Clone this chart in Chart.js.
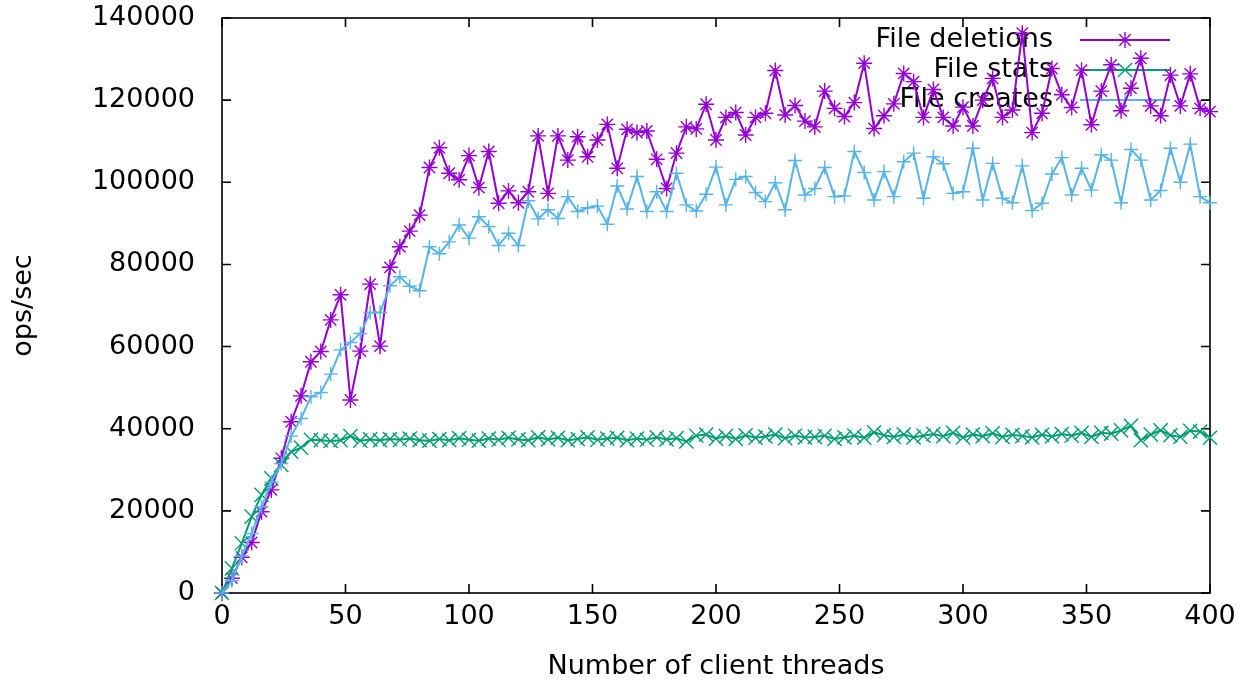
<!DOCTYPE html>
<html>
<head>
<meta charset="utf-8">
<title>ops/sec vs client threads</title>
<script src="https://cdn.jsdelivr.net/npm/chart.js@4/dist/chart.umd.min.js"></script>
<style>
  html, body { margin: 0; padding: 0; background: #fff; }
  canvas { display: block; }
</style>
</head>
<body>
<canvas id="opsChart" width="1245" height="683"></canvas>
<script>
// client thread counts (x)
const threads = [
    0, 4, 8, 12, 16, 20, 24, 28, 32, 36, 40, 44, 48, 52, 56, 60, 64, 68, 72, 76,
    80, 84, 88, 92, 96, 100, 104, 108, 112, 116, 120, 124, 128, 132, 136, 140, 144, 148, 152, 156,
    160, 164, 168, 172, 176, 180, 184, 188, 192, 196, 200, 204, 208, 212, 216, 220, 224, 228, 232, 236,
    240, 244, 248, 252, 256, 260, 264, 268, 272, 276, 280, 284, 288, 292, 296, 300, 304, 308, 312, 316,
    320, 324, 328, 332, 336, 340, 344, 348, 352, 356, 360, 364, 368, 372, 376, 380, 384, 388, 392, 396,
    400
];

const deletions = [
    0, 3600, 8700, 12300, 19800, 25100, 32800, 41700, 48000, 56300,
    58800, 66500, 72600, 47000, 58900, 75200, 60100, 79300, 84300, 88100,
    92000, 103600, 108400, 102200, 100600, 106500, 98700, 107500, 94900, 97900,
    95000, 97700, 111300, 97300, 111300, 105400, 111100, 106200, 110300, 114100,
    103400, 112900, 112100, 112500, 105600, 98500, 107100, 113500, 113000, 119000,
    110300, 115800, 117000, 111500, 115800, 116800, 127200, 116400, 118700, 114900,
    113500, 122200, 118000, 116000, 119400, 129000, 113100, 116200, 119100, 126500,
    124500, 115800, 122600, 115800, 113700, 118300, 113700, 120000, 125300, 115800,
    117600, 136300, 112100, 116800, 127700, 121300, 118200, 127300, 114000, 122200,
    128600, 117400, 122900, 130200, 118600, 116200, 126100, 118600, 126400, 118000,
    117200
];

const stats = [
    0, 6000, 12100, 18600, 23900, 27900, 31200, 34400, 35400, 37300,
    37200, 37000, 37200, 38200, 37100, 37400, 37200, 37500, 37300, 37600,
    37200, 37100, 37500, 37200, 37700, 37300, 37100, 37600, 37300, 37800,
    37400, 37200, 37900, 37400, 37800, 37200, 37500, 37900, 37300, 37600,
    37800, 37200, 37600, 37300, 37900, 37400, 37700, 36900, 38300, 38600,
    37600, 38200, 37500, 38400, 37800, 38100, 38600, 37700, 38300, 37900,
    38000, 38300, 37500, 37900, 38300, 37800, 39100, 38400, 38000, 38600,
    37900, 38300, 38700, 38200, 39000, 37900, 38600, 38200, 38900, 38000,
    38500, 38200, 37900, 38500, 38100, 38700, 38300, 39000, 38000, 39000,
    38800, 39600, 40700, 37200, 38600, 39600, 38400, 38000, 39500, 39300,
    37800
];

const creates = [
    0, 3000, 9000, 14500, 21000, 27000, 31500, 38200, 42500, 47800,
    48800, 53300, 59200, 61000, 63200, 68300, 68300, 74800, 77000, 74700,
    73600, 84300, 82600, 85500, 89600, 86400, 91600, 89200, 84600, 87600,
    84600, 95500, 91100, 93300, 91200, 96500, 92900, 93800, 94200, 89800,
    99100, 93500, 101400, 92900, 97700, 92900, 102200, 94500, 93000, 97100,
    103700, 94500, 100700, 101400, 97500, 95300, 99900, 93300, 105300, 96900,
    98500, 103600, 96500, 96700, 107500, 102400, 95700, 102600, 96500, 105000,
    107100, 96100, 106200, 104500, 97300, 97700, 108300, 95700, 104600, 96100,
    95000, 104000, 93100, 94900, 102000, 106000, 96900, 103400, 98100, 106700,
    105400, 95000, 108000, 105400, 95700, 98000, 108300, 100000, 109300, 96500,
    95000
];

const xTicks = [0, 50, 100, 150, 200, 250, 300, 350, 400];
const yTicks = [0, 20000, 40000, 60000, 80000, 100000, 120000, 140000];

const seriesNames = ['File deletions', 'File stats', 'File creates'];
const seriesColors = ['#9400d3', '#009e73', '#56b4e9'];
const seriesMarkers = ['star', 'crossRot', 'cross'];
const markerSizes = [8, 10, 7];

function toPoints(values) {
    return threads.map((t, i) => ({ x: t, y: values[i] }));
}

// simple gnuplot-style point glyphs
function drawMarker(ctx, style, x, y, r) {
    ctx.beginPath();
    if (style === 'cross' || style === 'star') {
        ctx.moveTo(x - r, y); ctx.lineTo(x + r, y);
        ctx.moveTo(x, y - r); ctx.lineTo(x, y + r);
    }
    if (style === 'crossRot' || style === 'star') {
        const d = r * Math.SQRT1_2;
        ctx.moveTo(x - d, y - d); ctx.lineTo(x + d, y + d);
        ctx.moveTo(x - d, y + d); ctx.lineTo(x + d, y - d);
    }
    ctx.stroke();
}

// border box with inward tics on all four sides
const framePlugin = {
    id: 'frame',
    beforeDatasetsDraw(chart) {
        const { ctx, chartArea: a, scales } = chart;
        const tic = 9;
        ctx.save();
        ctx.strokeStyle = '#000';
        ctx.lineWidth = 1.6;
        ctx.strokeRect(a.left, a.top, a.right - a.left, a.bottom - a.top);
        ctx.beginPath();
        xTicks.forEach(v => {
            const px = scales.x.getPixelForValue(v);
            ctx.moveTo(px, a.bottom); ctx.lineTo(px, a.bottom - tic);
            ctx.moveTo(px, a.top); ctx.lineTo(px, a.top + tic);
        });
        yTicks.forEach(v => {
            const py = scales.y.getPixelForValue(v);
            ctx.moveTo(a.left, py); ctx.lineTo(a.left + tic, py);
            ctx.moveTo(a.right, py); ctx.lineTo(a.right - tic, py);
        });
        ctx.stroke();
        ctx.restore();
    }
};

// key in the top right corner: label, then sample line with its marker
const keyPlugin = {
    id: 'key',
    beforeDatasetsDraw(chart) {
        const { ctx } = chart;
        const textRight = 1053, lineStart = 1080, lineEnd = 1170;
        ctx.save();
        ctx.font = '27px "DejaVu Sans", sans-serif';
        ctx.textAlign = 'right';
        ctx.textBaseline = 'middle';
        seriesNames.forEach((name, i) => {
            const y = 40 + i * 30;
            ctx.fillStyle = '#000';
            ctx.fillText(name, textRight, y);
            ctx.strokeStyle = seriesColors[i];
            ctx.lineWidth = 2;
            ctx.beginPath();
            ctx.moveTo(lineStart, y); ctx.lineTo(lineEnd, y);
            ctx.stroke();
            ctx.lineWidth = 1.4;
            drawMarker(ctx, seriesMarkers[i], (lineStart + lineEnd) / 2, y, markerSizes[i]);
        });
        ctx.restore();
    }
};

function makeDataset(i, values, order) {
    return {
        label: seriesNames[i],
        data: toPoints(values),
        borderColor: seriesColors[i],
        backgroundColor: seriesColors[i],
        borderWidth: 2,
        pointStyle: seriesMarkers[i],
        pointRadius: markerSizes[i],
        pointBorderWidth: 1.4,
        pointBorderColor: seriesColors[i],
        tension: 0,
        fill: false,
        clip: false,
        order: order
    };
}

Chart.defaults.font.family = '"DejaVu Sans", sans-serif';
Chart.defaults.font.size = 27;
Chart.defaults.color = '#000';

const ctx = document.getElementById('opsChart').getContext('2d');
const opsChart = new Chart(ctx, {
    type: 'line',
    data: {
        datasets: [
            makeDataset(0, deletions, 2),
            makeDataset(1, stats, 1),
            makeDataset(2, creates, 0)
        ]
    },
    options: {
        responsive: false,
        animation: false,
        layout: { padding: { top: 18, right: 35, left: 0, bottom: 0 } },
        plugins: {
            legend: { display: false },
            tooltip: { enabled: false }
        },
        scales: {
            x: {
                type: 'linear',
                min: 0,
                max: 400,
                afterBuildTicks: s => { s.ticks = xTicks.map(v => ({ value: v })); },
                ticks: { padding: 8, maxRotation: 0, callback: v => String(v) },
                grid: { drawOnChartArea: false, drawTicks: false },
                border: { display: false },
                title: { display: true, text: 'Number of client threads', padding: { top: 0, bottom: 0 } },
                afterFit: s => {
                    s.height = 90;
                    s.paddingLeft = 0;
                    s.paddingRight = 0;
                }
            },
            y: {
                min: 0,
                max: 140000,
                afterBuildTicks: s => { s.ticks = yTicks.map(v => ({ value: v })); },
                ticks: { padding: 27, callback: v => String(v) },
                grid: { drawOnChartArea: false, drawTicks: false },
                border: { display: false },
                title: { display: true, text: 'ops/sec', padding: { top: 8, bottom: 0 } },
                afterFit: s => {
                    s.width = 222;
                    s.paddingTop = 0;
                    s.paddingBottom = 0;
                }
            }
        }
    },
    plugins: [framePlugin, keyPlugin]
});
</script>
</body>
</html>
